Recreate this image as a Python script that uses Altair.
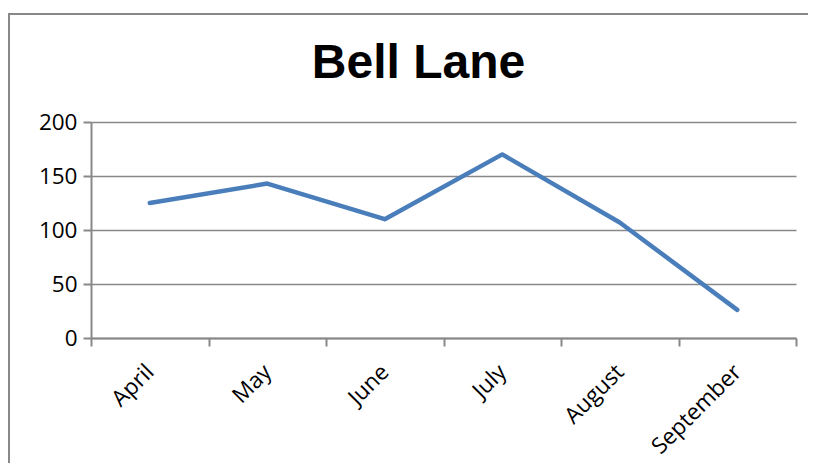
import altair as alt
import pandas as pd

months = ["April", "May", "June", "July", "August", "September"]
values = [125, 143, 110, 170, 107, 26]
title_text = ["Bell Lane"]

df = pd.DataFrame({"month": months, "value": values})
tdf = pd.DataFrame({"t": title_text})

PL, PT, PR, PB = 83, 114, 12, 125
W, H = 705, 216

x = alt.X("month:N", sort=months, bandPosition=0.5,
          scale=alt.Scale(type="band", paddingInner=0, paddingOuter=0),
          axis=alt.Axis(title=None, tickBand="extent", labelAngle=-45,
                        labelAlign="right", labelBaseline="middle",
                        labelPadding=22, labelFont="Open Sans", labelFontSize=22.5,
                        labelColor="#000000", domainColor="#888888", domainWidth=2,
                        tickColor="#888888", tickWidth=2, tickSize=8, grid=False))
y = alt.Y("value:Q", scale=alt.Scale(domain=[0, 200]),
          axis=alt.Axis(title=None, values=[0, 50, 100, 150, 200], labelFont="Open Sans",
                        labelFontSize=22.5, labelColor="#000000", labelPadding=6,
                        domainColor="#888888", domainWidth=2, tickColor="#888888",
                        tickWidth=2, tickSize=8, gridColor="#888888", gridWidth=1.5))

line = alt.Chart(df).mark_line(color="#4A7EBB", strokeWidth=4.5, strokeCap="round",
                               strokeJoin="round").encode(x=x, y=y)

border_top = alt.Chart(tdf).mark_rule(color="#888888", strokeWidth=2).encode(
    x=alt.value(-PL), x2=alt.value(W + PR), y=alt.value(-PT + 6))
border_left = alt.Chart(tdf).mark_rule(color="#888888", strokeWidth=2).encode(
    x=alt.value(-PL + 1), y=alt.value(-PT + 5), y2=alt.value(H + PB))

title = alt.Chart(tdf).mark_text(font="Liberation Sans", fontSize=48, fontWeight="bold",
                                 color="#000000", align="center", baseline="alphabetic").encode(
    text="t:N", x=alt.value(327.5), y=alt.value(-44))

chart = alt.layer(border_top, border_left, line, title).properties(
    width=W, height=H,
    padding={"left": PL, "top": PT, "right": PR, "bottom": PB},
    autosize=alt.AutoSizeParams(type="none"),
).configure_view(stroke=None)

chart.save("out.html", embed_options={"renderer": "svg", "actions": False})
